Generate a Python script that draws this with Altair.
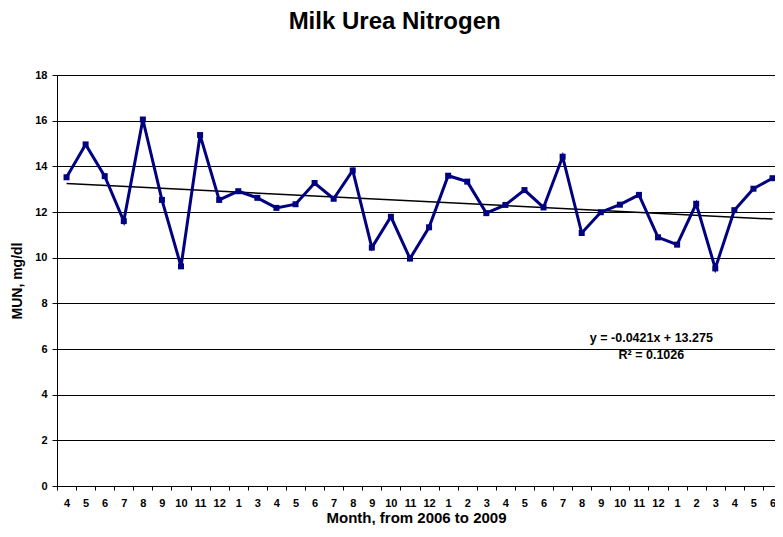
import altair as alt
import pandas as pd

# ---- data ----
month_labels = ["4", "5", "6", "7", "8", "9", "10", "11", "12",
                "1", "3", "4", "5", "6", "7", "8", "9", "10", "11", "12",
                "1", "2", "3", "4", "5", "6", "7", "8", "9", "10", "11", "12",
                "1", "2", "3", "4", "5", "6"]
mun_values = [13.52, 14.96, 13.57, 11.60, 16.05, 12.53, 9.62, 15.37, 12.53,
              12.91, 12.62, 12.18, 12.34, 13.27, 12.58, 13.82, 10.44, 11.79, 9.96, 11.33,
              13.59, 13.33, 11.95, 12.31, 12.96, 12.20, 14.42, 11.08, 11.99, 12.32, 12.75, 10.89,
              10.57, 12.36, 9.53, 12.08, 13.02, 13.48]
equation_lines = ["y = -0.0421x + 13.275", "R² = 0.1026"]
equation_x = [31.65, 31.65]
equation_y = [6.48, 5.75]

y_ticks = list(range(0, 19, 2))

df = pd.DataFrame({
    "idx": list(range(1, len(mun_values) + 1)),
    "label": month_labels,
    "mun": mun_values,
})
ann = pd.DataFrame({"x": equation_x, "y": equation_y, "text": equation_lines})

FONT = "Liberation Sans"
NAVY = "#000080"

n = len(mun_values)
x_domain = [0.5, 38.13]
# ticks sit on the category boundaries; each label is shifted half a category right
tick_vals = [i + 0.5 for i in range(0, n)]  # 0.5 .. 37.5
label_expr = "split('" + ",".join(month_labels) + "', ',')[round(datum.value - 0.5)]"

x_enc = alt.X(
    "idx:Q",
    scale=alt.Scale(domain=x_domain, nice=False, zero=False),
    axis=alt.Axis(
        values=tick_vals,
        tickCount=200,
        labelExpr=label_expr,
        labelOffset=9.5,
        title="Month, from 2006 to 2009",
        titleFont=FONT, titleFontSize=15, titleFontWeight="bold", titleColor="black",
        titleBaseline="alphabetic", titleY=36,
        labelFont=FONT, labelFontSize=11, labelFontWeight="bold", labelColor="black",
        labelPadding=7, labelOverlap=False, labelFlush=False, labelBound=False,
        tickColor="black", tickSize=4,
        domainColor="black", domainWidth=1,
        grid=False,
    ),
)
y_enc = alt.Y(
    "mun:Q",
    scale=alt.Scale(domain=[0, 18], nice=False),
    axis=alt.Axis(
        values=y_ticks,
        title="MUN, mg/dl",
        titleFont=FONT, titleFontSize=14, titleFontWeight="bold", titleColor="black",
        titlePadding=10,
        labelFont=FONT, labelFontSize=11, labelFontWeight="bold", labelColor="black",
        labelPadding=5,
        tickColor="black", tickSize=5,
        domainColor="black", domainWidth=1,
        grid=True, gridColor="black", gridWidth=1, gridOpacity=1,
    ),
)

base = alt.Chart(df)
line = base.mark_line(color=NAVY, strokeWidth=3).encode(x=x_enc, y=y_enc)
pts = base.mark_square(color=NAVY, size=36, opacity=1, filled=True).encode(x="idx:Q", y="mun:Q")
trend = base.transform_regression("idx", "mun", extent=[1, n]).mark_line(
    color="black", strokeWidth=1.5
).encode(x="idx:Q", y="mun:Q")
txt = alt.Chart(ann).mark_text(
    font=FONT, fontSize=12.5, fontWeight="bold", color="black", align="center", baseline="middle"
).encode(x="x:Q", y="y:Q", text="text:N")

chart = alt.layer(trend, line, pts, txt).properties(
    width=718,
    height=411,
    autosize=alt.AutoSizeParams(type="none"),
    padding={"left": 49, "top": 67, "right": 0, "bottom": 39},
    title=alt.TitleParams(
        "Milk Urea Nitrogen", font=FONT, fontSize=24, fontWeight="bold", color="black",
        anchor="middle", frame="bounds", offset=35,
    ),
    background="white",
).configure_view(stroke=None)

chart.save("out.html", embed_options={"renderer": "svg", "actions": False})
